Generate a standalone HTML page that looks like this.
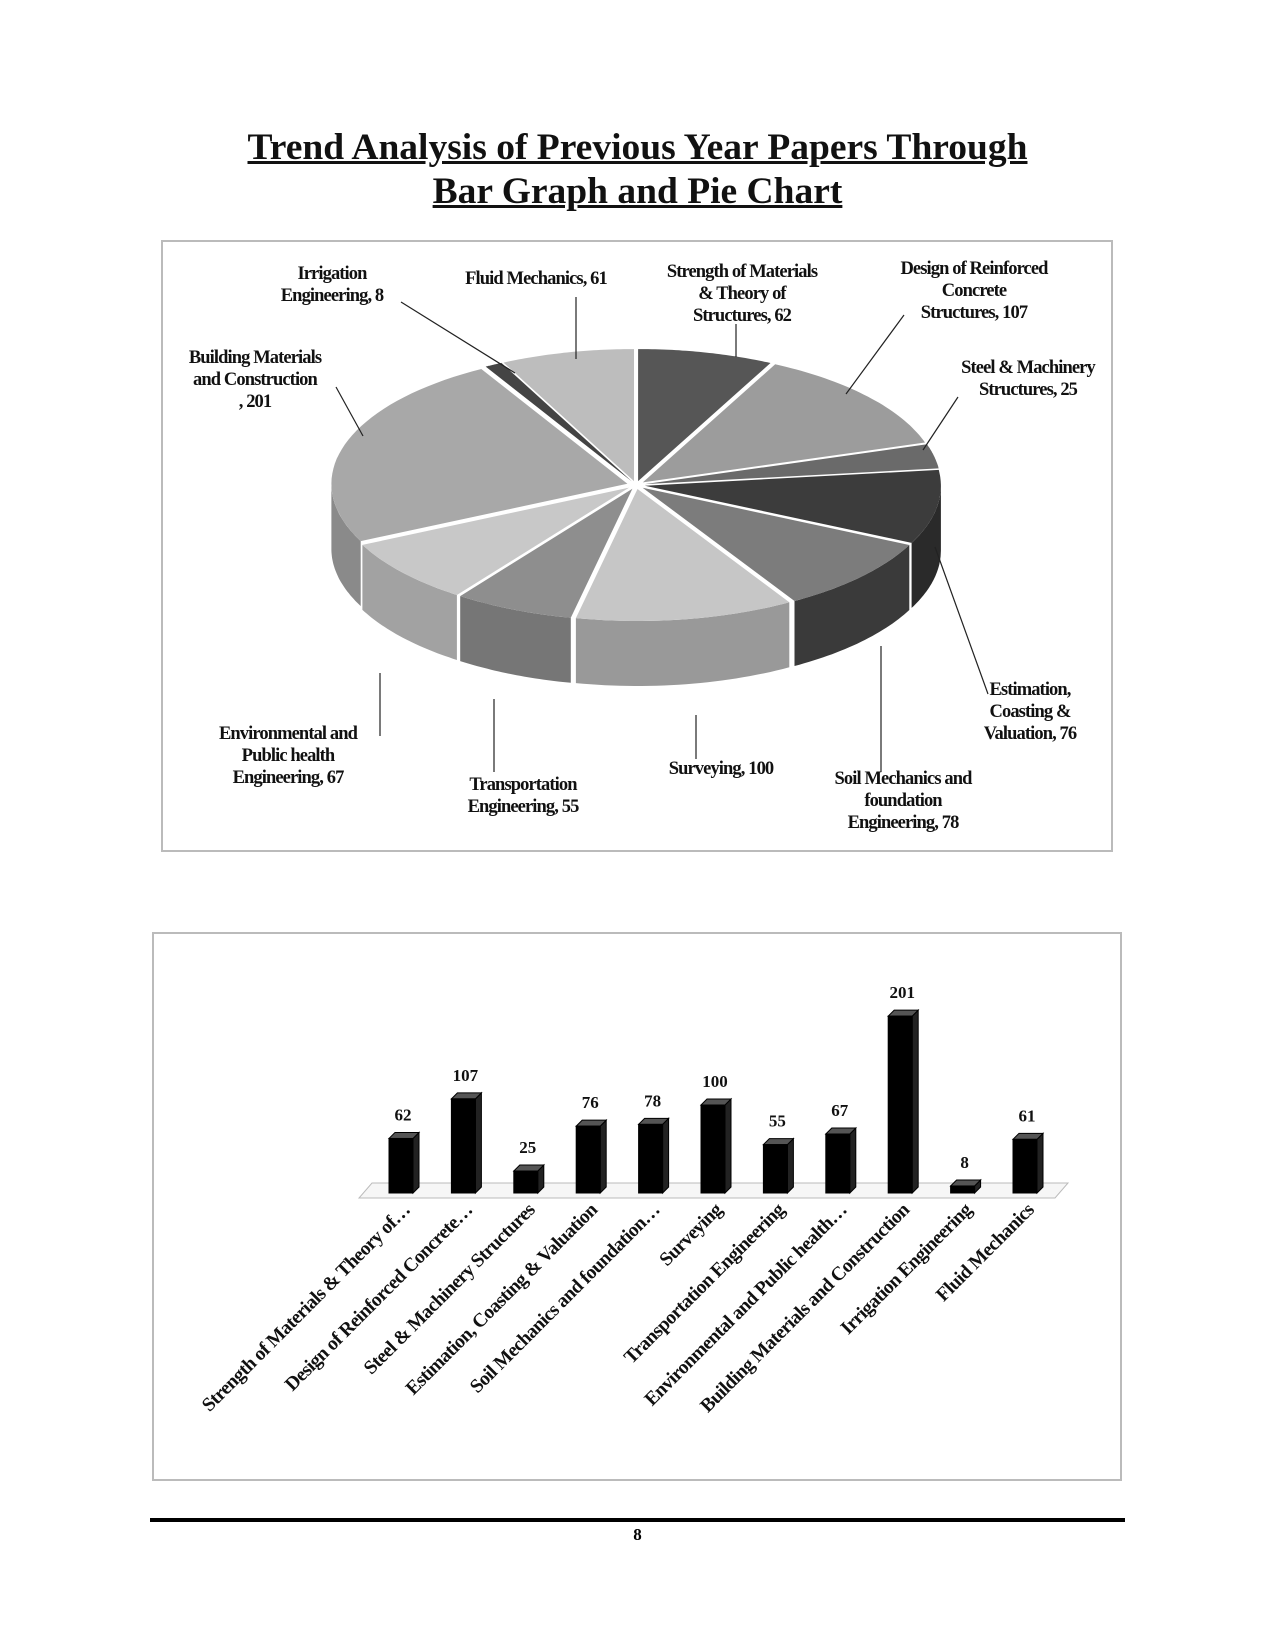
<!DOCTYPE html>
<html><head><meta charset="utf-8">
<style>
html,body{margin:0;padding:0;background:#fff;}
body{width:1275px;height:1650px;position:relative;overflow:hidden;font-family:"Liberation Serif",serif;}
.t{position:absolute;left:0;width:1275px;text-align:center;font-weight:bold;font-size:37.5px;text-decoration:underline;color:#111;}
.box{position:absolute;border:2px solid #bbb;box-sizing:border-box;}
.lb{position:absolute;font-weight:bold;font-size:18.5px;line-height:22px;text-align:center;color:#111;white-space:nowrap;transform:translateX(-50%);letter-spacing:-0.9px;}
</style></head><body>
<div class="t" style="top:126px;">Trend Analysis of Previous Year Papers Through</div>
<div class="t" style="top:170px;">Bar Graph and Pie Chart</div>

<div class="box" style="left:161px;top:240px;width:952px;height:612px;"></div>
<svg id="pie" style="position:absolute;left:0;top:0" width="1275" height="900"></svg>

<div class="lb" style="left:332px;top:263px;">Irrigation<br>Engineering, 8</div>
<div class="lb" style="left:536px;top:268px;">Fluid Mechanics, 61</div>
<div class="lb" style="left:742px;top:261px;">Strength of Materials<br>&amp; Theory of<br>Structures, 62</div>
<div class="lb" style="left:974px;top:258px;">Design of Reinforced<br>Concrete<br>Structures, 107</div>
<div class="lb" style="left:1028px;top:357px;">Steel &amp; Machinery<br>Structures, 25</div>
<div class="lb" style="left:255px;top:347px;">Building Materials<br>and Construction<br>, 201</div>
<div class="lb" style="left:1030px;top:679px;">Estimation,<br>Coasting &amp;<br>Valuation, 76</div>
<div class="lb" style="left:903px;top:768px;">Soil Mechanics and<br>foundation<br>Engineering, 78</div>
<div class="lb" style="left:721px;top:758px;">Surveying, 100</div>
<div class="lb" style="left:523px;top:774px;">Transportation<br>Engineering, 55</div>
<div class="lb" style="left:288px;top:723px;">Environmental and<br>Public health<br>Engineering, 67</div>

<div class="box" style="left:152px;top:932px;width:970px;height:549px;"></div>
<svg style="position:absolute;left:0;top:900px" width="1275" height="600" font-family="Liberation Serif, serif" font-weight="bold" font-size="17">
<polygon points="372,283 1068,283 1055,298 359,298" fill="#f6f6f6" stroke="#bbb" stroke-width="1"/>
<g id="bars"></g>
</svg>

<div style="position:absolute;left:150px;top:1518px;width:975px;height:4px;background:#000;"></div>
<div style="position:absolute;left:0;width:1275px;top:1525px;text-align:center;font-weight:bold;font-size:17px;">8</div>

<script>
(function(){
var NS="http://www.w3.org/2000/svg";
var svg=document.getElementById('pie');
function el(n,a,p){var e=document.createElementNS(NS,n);for(var k in a)e.setAttribute(k,a[k]);(p||svg).appendChild(e);return e;}
var data=[[62,'#565656','#3e3e3e'],[107,'#9c9c9c','#7a7a7a'],[25,'#6a6a6a','#505050'],[76,'#3c3c3c','#2a2a2a'],[78,'#7c7c7c','#3a3a3a'],[100,'#c6c6c6','#999'],[55,'#8e8e8e','#767676'],[67,'#c8c8c8','#a2a2a2'],[201,'#a8a8a8','#8a8a8a'],[8,'#444','#333'],[61,'#bdbdbd','#a0a0a0']];
var tot=840,cx=636,cy=485,rx=296,ry=132,d=65,ex=9;
var a=0,sl=[];
data.forEach(function(s){var a0=a,a1=a+s[0]/tot*2*Math.PI;a=a1;var m=(a0+a1)/2;sl.push({a0:a0,a1:a1,ox:ex*Math.sin(m),oy:-ex*0.45*Math.cos(m),c:s[1],w:s[2]});});
function P(s,t,dy){return [cx+s.ox+rx*Math.sin(t),cy+s.oy-ry*Math.cos(t)+(dy||0)];}
sl.forEach(function(s){
 var lo=Math.max(s.a0,Math.PI/2),hi=Math.min(s.a1,3*Math.PI/2);
 if(hi>lo){var pts=[],n=30,i;
  for(i=0;i<=n;i++){pts.push(P(s,lo+(hi-lo)*i/n,0));}
  for(i=n;i>=0;i--){pts.push(P(s,lo+(hi-lo)*i/n,d));}
  el('polygon',{points:pts.map(function(p){return p[0].toFixed(1)+','+p[1].toFixed(1)}).join(' '),fill:s.w});}
});
sl.forEach(function(s){var pts=[[cx+s.ox,cy+s.oy]],n=40;
 for(var i=0;i<=n;i++)pts.push(P(s,s.a0+(s.a1-s.a0)*i/n,0));
 el('polygon',{points:pts.map(function(p){return p[0].toFixed(1)+','+p[1].toFixed(1)}).join(' '),fill:s.c});});
[[401,302,515,373],[576,297,576,359],[736,324,736,357],[904,315,846,394],[958,397,923,450],[336,387,363,436],[935,547,988,694],[881,646,881,772],[696,715,696,759],[494,699,494,772],[380,673,380,736]].forEach(function(l){
 el('line',{x1:l[0],y1:l[1],x2:l[2],y2:l[3],stroke:'#222','stroke-width':1.2});});

var g=document.getElementById('bars');
var vals=[62,107,25,76,78,100,55,67,201,8,61];
var names=['Strength of Materials & Theory of…','Design of Reinforced Concrete…','Steel & Machinery Structures','Estimation, Coasting & Valuation','Soil Mechanics and foundation…','Surveying','Transportation Engineering','Environmental and Public health…','Building Materials and Construction','Irrigation Engineering','Fluid Mechanics'];
var base=293,k=0.88,w=24,dp=6;
vals.forEach(function(v,i){
 var xc=401+i*62.4,x=xc-w/2,h=v*k,top=base-h;
 el('polygon',{points:[x+w,top,x+w+dp,top-dp,x+w+dp,base-dp,x+w,base].join(' '),fill:'#222',stroke:'#000'},g);
 el('polygon',{points:[x,top,x+dp,top-dp,x+w+dp,top-dp,x+w,top].join(' '),fill:'#555',stroke:'#000'},g);
 el('rect',{x:x,y:top,width:w,height:h,fill:'#000',stroke:'#000'},g);
 var t=el('text',{x:xc+2,y:top-18,'text-anchor':'middle',fill:'#111'},g);t.textContent=v;
 var lt=el('text',{x:0,y:0,'text-anchor':'end',fill:'#111','font-size':'19.5','letter-spacing':'-0.6',transform:'translate('+(xc+10)+','+(base+18)+') rotate(-45)'},g);lt.textContent=names[i];
});
})();
</script>
</body></html>
